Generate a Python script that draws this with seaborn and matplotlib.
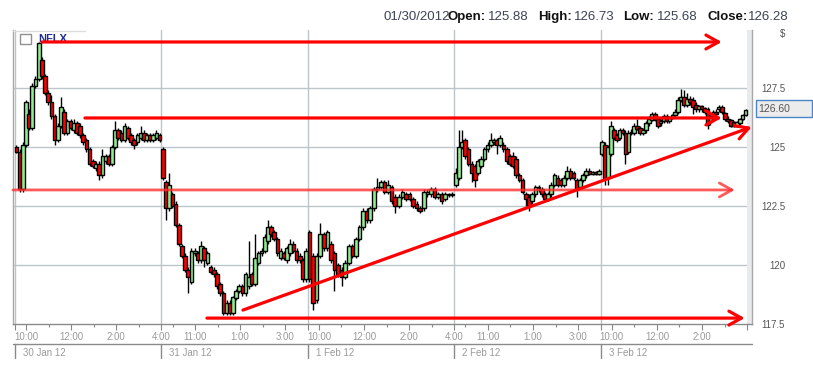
import numpy as np
import pandas as pd
import matplotlib
matplotlib.use("Agg")
import matplotlib.pyplot as plt
from matplotlib.lines import Line2D
from matplotlib.patches import Rectangle
import seaborn as sns

# ---------------- data: (open, high, low, close) per candle ----------------
jan30 = [
    (125.0,125.1,124.75,124.8),(124.8,124.9,123.1,123.2),(123.2,125.2,123.1,125.1),(125.1,127.0,125.0,126.9),
    (126.4,126.6,125.7,125.8),(125.8,127.7,125.7,127.6),(127.6,128.0,127.5,127.9),(127.9,129.45,127.8,129.4),
    (128.7,128.8,127.9,128.0),(128.0,128.1,127.2,127.3),(127.3,127.4,126.8,126.9),(126.9,127.2,126.2,126.3),
    (126.3,126.4,125.1,125.3),(125.3,126.0,125.2,125.9),(125.9,127.1,125.8,126.7),(126.5,126.6,125.5,125.6),
    (125.6,126.2,125.5,126.1),(126.1,126.2,125.7,125.8),(125.7,126.2,125.6,126.0),(126.0,126.1,125.5,125.6),
    (125.9,126.0,125.4,125.5),(125.5,125.6,125.1,125.2),(125.3,125.4,124.8,124.9),(124.9,125.0,124.2,124.3),
    (124.4,124.5,124.1,124.2),(124.1,124.4,124.0,124.3),(124.3,124.4,123.6,123.8),(123.8,124.9,123.7,124.6),
    (124.4,124.7,124.3,124.6),(124.6,124.7,124.2,124.3),(124.3,125.1,124.2,125.0),(125.0,126.1,124.9,125.7),
    (125.7,125.8,125.3,125.4),(125.6,125.7,125.2,125.3),(125.3,126.0,125.2,125.9),(125.8,125.9,125.3,125.4),
    (125.5,125.6,125.1,125.2),(125.3,125.4,124.9,125.1),(125.2,125.6,125.1,125.5),(125.4,125.9,125.3,125.6),
    (125.6,125.7,125.2,125.3),(125.3,125.6,125.2,125.5),(125.5,125.6,125.2,125.3),(125.3,125.6,125.2,125.5),
    (125.4,125.7,125.3,125.6),(125.5,125.6,125.2,125.3),
]
jan31 = [
    (124.9,125.0,123.6,123.7),(123.5,123.6,121.9,122.4),(122.4,123.9,122.3,123.4),(123.0,123.1,122.4,122.5),
    (122.6,122.7,121.6,121.7),(121.7,121.8,120.8,120.9),(120.8,120.9,120.3,120.4),(120.4,120.5,119.7,119.8),
    (119.8,119.9,118.8,119.5),(119.3,120.7,119.2,120.6),(120.5,120.7,120.4,120.6),(120.5,120.6,120.1,120.2),
    (120.2,121.0,120.1,120.8),(120.7,120.8,119.9,120.2),(120.1,120.6,120.0,120.5),(119.9,120.0,119.6,119.7),
    (119.8,119.9,119.5,119.6),(119.6,119.7,119.0,119.1),(119.2,119.3,118.7,118.8),(118.8,118.9,117.9,117.95),
    (117.95,118.5,117.9,118.4),(118.4,118.5,117.9,117.95),(117.95,118.7,117.9,118.65),(118.6,119.0,118.5,118.9),
    (118.9,119.2,118.8,119.1),(119.1,119.2,118.7,118.8),(118.8,119.7,118.7,119.6),(119.1,121.0,119.0,119.5),
    (119.6,119.7,119.1,119.2),(119.2,121.3,119.1,120.3),(120.1,120.6,120.0,120.5),(120.5,120.7,120.4,120.6),
    (120.6,121.3,120.5,121.2),(121.0,121.9,120.9,121.6),(121.6,121.7,121.2,121.3),(121.4,121.5,121.0,121.1),
    (121.1,121.2,120.4,120.5),(120.3,120.7,120.2,120.6),(120.5,120.6,120.2,120.3),(120.2,120.8,120.1,120.7),
    (120.5,121.1,120.4,120.9),(120.9,121.0,120.5,120.6),(120.6,120.7,120.1,120.2),(120.4,120.5,120.1,120.2),
    (120.2,120.3,119.3,119.4),(119.4,120.7,119.3,120.6),
]
feb01 = [
    (121.4,121.5,119.3,119.4),(120.4,120.5,118.1,118.4),(118.5,120.5,118.4,120.4),(120.4,121.8,120.3,121.3),
    (121.3,121.4,120.6,120.7),(120.7,121.5,120.6,121.4),(120.9,121.0,120.1,120.2),(120.5,120.6,118.9,119.8),
    (120.0,120.1,119.5,119.6),(119.8,119.9,119.1,119.5),(119.5,120.2,119.4,120.1),(120.1,120.9,120.0,120.8),
    (120.8,120.9,120.3,120.4),(120.4,121.2,120.3,121.1),(121.1,121.7,121.0,121.6),(121.6,122.4,121.5,122.3),
    (122.3,122.4,121.8,121.9),(121.9,122.5,121.8,122.4),(122.4,123.3,122.3,123.2),(123.2,123.7,123.1,123.3),
    (123.3,123.6,123.2,123.5),(123.5,123.6,123.0,123.1),(123.1,123.6,123.0,123.4),(123.3,123.4,122.6,122.7),
    (122.9,123.0,122.2,122.5),(122.5,123.0,122.4,122.9),(122.9,123.2,122.8,123.1),(123.0,123.1,122.7,122.8),
    (123.0,123.1,122.7,122.8),(122.8,122.9,122.4,122.5),(122.6,122.7,122.3,122.4),(122.4,122.5,122.2,122.3),
    (122.4,123.2,122.3,123.1),(123.0,123.2,122.9,123.1),(123.0,123.3,122.9,123.2),(123.2,123.3,122.8,122.9),
    (122.9,123.1,122.8,123.0),(123.0,123.1,122.6,122.7),(122.8,123.1,122.7,123.0),(122.95,123.05,122.9,123.0),
    (123.0,123.1,122.9,122.95),
]
feb02 = [
    (123.4,124.1,123.3,123.9),(123.7,125.7,123.6,125.0),(125.0,125.7,124.9,125.2),(125.3,125.4,124.5,124.6),
    (124.9,125.0,124.2,124.3),(124.3,124.4,123.5,123.9),(124.2,124.3,123.3,123.6),(123.9,124.5,123.8,124.4),
    (124.2,124.6,124.1,124.5),(124.5,125.0,124.4,124.9),(124.9,125.2,124.8,125.1),(125.1,125.6,125.0,125.3),
    (125.2,125.4,125.1,125.3),(125.3,125.4,124.7,125.1),(125.1,125.5,125.0,125.4),(125.1,125.2,124.8,124.9),
    (124.9,125.0,124.3,124.4),(124.6,124.7,124.2,124.3),(124.6,124.8,124.1,124.2),(124.5,124.6,123.7,123.8),
    (123.8,123.9,123.5,123.6),(123.6,123.7,123.0,123.1),(123.0,123.1,122.5,122.8),(122.9,123.0,122.3,122.5),
    (122.7,123.1,122.6,123.0),(123.0,123.4,122.9,123.3),(123.25,123.4,123.1,123.3),(123.2,123.3,122.9,123.0),
    (123.0,123.1,122.7,122.8),(122.8,123.1,122.7,123.0),(123.0,123.5,122.9,123.4),(123.4,123.9,123.3,123.8),
    (123.7,123.8,123.3,123.4),(123.6,123.7,123.3,123.4),(123.4,123.8,123.3,123.7),(123.7,124.2,123.6,124.0),
    (124.0,124.1,123.6,123.7),(123.9,124.0,123.6,123.7),(123.6,123.7,122.9,123.2),(123.3,123.7,123.2,123.6),
    (123.6,123.9,123.5,123.8),(123.8,124.1,123.7,124.0),(124.0,124.1,123.8,123.85),(123.85,124.0,123.8,123.95),
    (123.95,124.0,123.8,123.85),(123.85,124.05,123.8,124.0),
]
feb03 = [
    (124.7,125.3,124.6,125.2),(125.1,125.2,123.4,123.7),(123.7,125.1,123.4,125.0),(124.7,126.1,124.6,125.9),
    (125.7,125.8,125.3,125.4),(125.5,125.6,125.2,125.3),(125.4,125.8,125.3,125.7),(125.7,125.8,125.5,125.6),
    (125.6,125.7,124.3,124.7),(124.8,125.7,124.7,125.6),(125.6,125.75,125.5,125.65),(125.6,126.0,125.5,125.9),
    (125.9,126.2,125.7,125.75),(125.8,125.9,125.5,125.6),(125.6,125.8,125.5,125.7),(125.7,126.1,125.6,126.0),
    (126.0,126.3,125.9,126.2),(126.15,126.5,126.1,126.4),(126.4,126.5,126.1,126.2),(126.2,126.3,125.8,125.9),
    (126.0,126.2,125.9,126.1),(126.1,126.4,126.0,126.3),(126.3,126.4,126.0,126.1),(126.1,126.3,126.0,126.25),
    (126.25,126.4,126.2,126.35),(126.35,126.6,126.3,126.5),(126.5,127.1,126.4,127.0),(127.0,127.45,126.9,127.1),
    (127.1,127.4,126.7,126.8),(126.8,127.3,126.7,127.05),(127.05,127.15,126.8,126.9),(127.0,127.1,126.4,126.7),
    (126.8,126.9,126.5,126.6),(126.6,126.8,126.5,126.75),(126.75,126.8,126.5,126.6),(126.65,126.7,126.4,126.5),
    (126.6,126.7,125.75,125.95),(126.05,126.35,125.95,126.3),(126.3,126.55,126.2,126.5),(126.5,126.6,126.3,126.4),
    (126.6,126.8,126.5,126.7),(126.7,126.8,126.4,126.5),(126.45,126.5,126.1,126.2),(126.2,126.3,126.0,126.1),
    (126.15,126.2,125.85,125.9),(126.05,126.1,125.85,125.9),(125.9,126.1,125.85,126.05),(126.0,126.25,125.95,126.2),
    (126.2,126.4,126.15,126.35),(126.35,126.6,126.3,126.55),
]
days = [jan30, jan31, feb01, feb02, feb03]
day_labels = ["30 Jan 12", "31 Jan 12", "1 Feb 12", "2 Feb 12", "3 Feb 12"]

price_ticks = [117.5, 120, 122.5, 125, 127.5]
price_tick_labels = ["117.5", "120", "122.5", "125", "127.5"]

# x axis: day index + fraction of the 9:30-16:00 session
major_times = [(0, 10, "10:00"), (0, 12, "12:00"), (0, 14, "2:00"), (1, 9.5, "4:00"),
               (1, 11, "11:00"), (1, 13, "1:00"), (1, 15, "3:00"),
               (2, 10, "10:00"), (2, 12, "12:00"), (2, 14, "2:00"), (3, 9.5, "4:00"),
               (3, 11, "11:00"), (3, 13, "1:00"), (3, 15, "3:00"),
               (4, 10, "10:00"), (4, 12, "12:00"), (4, 14, "2:00")]
bare_ticks = [(0, 9.5), (2, 9.5), (4, 9.5), (5, 9.5)]
minor_times = [(0, 11), (0, 13), (0, 15), (1, 10), (1, 12), (1, 14), (2, 11), (2, 13), (2, 15),
               (3, 10), (3, 12), (3, 14), (4, 11), (4, 13), (4, 15)]

# drawn annotation lines (day-position, price)
hline_price = [129.45, 126.23, 123.18, 117.75]
hline_from = [0.186, 0.479, -0.0123, 1.312]
hline_to = [4.827, 4.827, 4.916, 4.984]
trend_x = [1.558, 5.032]
trend_y = [118.09, 125.85]

header = [("01/30/2012", 383, "normal"), ("Open:", 447, "bold"), ("125.88", 488, "normal"),
          ("High:", 538, "bold"), ("126.73", 574, "normal"), ("Low:", 623, "bold"),
          ("125.68", 657, "normal"), ("Close:", 707, "bold"), ("126.28", 748, "normal")]
last_price = "126.60"

# ---------------- figure ----------------
sns.set_theme(style="white")
plt.rcParams['font.family'] = ['Liberation Sans', 'DejaVu Sans']

W, H = 813, 365
fig = plt.figure(figsize=(W / 100, H / 100), dpi=100)
fig.patch.set_facecolor("white")

def fx(px):
    return px / W

def fy(py):
    return 1 - py / H

X0, DAYW = 14.8, 146.45
def xd(px):
    return (px - X0) / DAYW

def tpos(d, h):
    return d + (h - 9.5) / 6.5

ax = fig.add_axes([fx(13), fy(324), (752 - 13) / W, (324 - 30) / H])
ax.set_facecolor("white")
ax.set_xlim(xd(13), xd(752))
ax.set_ylim(117.5, 117.5 + 294 / 23.6)

rows = []
for d, day in enumerate(days):
    n = len(day)
    for k, (o, h, l, c) in enumerate(day):
        rows.append(dict(x=d + (k + 0.5) / n, open=o, high=h, low=l, close=c))
df = pd.DataFrame(rows)

grid_c = "#bcc5c9"
for p in price_ticks[1:]:
    ax.axhline(p, color=grid_c, lw=1, zorder=0)
for d in range(5):
    ax.axvline(d, color=grid_c, lw=1, zorder=0)
ax.axvspan(xd(747), xd(752), color="#e8eaeb", lw=0, zorder=1)

ax.vlines(df["x"], df["low"], df["high"], color="black", lw=1.0, zorder=2)
body_bottom = np.minimum(df["open"], df["close"])
body_h = (df["close"] - df["open"]).abs().clip(lower=0.05)
colors = np.where(df["close"] >= df["open"], "#90ee90", "#ff0000")
ax.bar(df["x"], body_h, bottom=body_bottom, width=0.025, color=colors,
       edgecolor="black", linewidth=1.0, zorder=3)

arrow = dict(arrowstyle="->,head_length=0.45,head_width=0.25", color="#ff0000", lw=2.3,
             shrinkA=0, shrinkB=0, mutation_scale=20)
for i, (p, a, b) in enumerate(zip(hline_price, hline_from, hline_to)):
    props = dict(arrow)
    if i == 2:
        props.update(color="#ff3030", alpha=0.8, lw=2.0)
    ax.annotate("", xy=(b, p), xytext=(a, p), arrowprops=props, zorder=6,
                annotation_clip=False)
ax.annotate("", xy=(trend_x[1], trend_y[1]), xytext=(trend_x[0], trend_y[0]),
            arrowprops=arrow, zorder=6, annotation_clip=False)

# spines
for s in ["left", "right", "bottom", "top"]:
    ax.spines[s].set_visible(True)
    ax.spines[s].set_linewidth(1)
ax.spines["left"].set_color("#a8a8a8")
ax.spines["right"].set_color("#a8a8a8")
ax.spines["bottom"].set_color("#8a8a8a")
ax.spines["top"].set_visible(False)

# x ticks
maj_pos = [tpos(d, h) for d, h, _ in major_times] + [tpos(d, h) for d, h in bare_ticks]
maj_lab = [t for _, _, t in major_times] + [""] * len(bare_ticks)
ax.set_xticks(maj_pos)
ax.set_xticklabels(maj_lab)
ax.set_xticks([tpos(d, h) for d, h in minor_times], minor=True)
ax.tick_params(axis="x", which="both", bottom=True, top=False, direction="out",
               color="#888888", width=0.8)
ax.tick_params(axis="x", which="major", length=4.3, pad=1.5, labelsize=7, labelcolor="#9a9a9a")
ax.tick_params(axis="x", which="minor", length=2.2)

# y ticks on right
ax.yaxis.tick_right()
ax.set_yticks(price_ticks)
ax.set_yticklabels(price_tick_labels)
ax.tick_params(axis="y", which="both", length=0, pad=23.8, labelsize=7,
               labelcolor="#555555", right=True, left=False)
for t in ax.get_yticklabels():
    t.set_ha("right")
ax.grid(False)

# date row
fig.add_artist(Line2D([fx(13), fx(752)], [fy(344), fy(344)], color="#8a8a8a", lw=1))
for d, lab in enumerate(day_labels):
    px = X0 + d * DAYW
    fig.add_artist(Line2D([fx(px), fx(px)], [fy(344), fy(358)], color="#8a8a8a", lw=1))
    fig.text(fx(px + 8), fy(353), lab, fontsize=7, color="#9a9a9a", va="center", ha="left")

# header
for txt, px, wt in header:
    fig.text(fx(px), fy(17), txt, fontsize=9.5, fontweight=wt,
             color="#111111" if wt == "bold" else "#3d4257", va="center", ha="left")

fig.text(fx(785), fy(34), "$", fontsize=7, color="#555555", va="center", ha="right")

# last price box
fig.add_artist(Rectangle((fx(756), fy(117)), (812 - 756) / W, 17 / H, transform=fig.transFigure,
                         facecolor="#ececec", edgecolor="#4a86c5", lw=1))
fig.text(fx(758), fy(108.5), last_price, fontsize=7.5, color="#555555", va="center", ha="left")

# legend
ax.add_artist(Rectangle((fx(20), fy(44)), 11 / W, 10 / H, transform=fig.transFigure,
                        facecolor="white", edgecolor="#909090", lw=1, zorder=4, clip_on=False))
ax.add_line(Line2D([fx(13), fx(85)], [fy(30.5), fy(30.5)], transform=fig.transFigure,
                   color="#dcdcdc", lw=1, zorder=4, clip_on=False))
ax.text(fx(38), fy(39), "NFLX", transform=fig.transFigure, fontsize=8, fontweight="bold",
        color="#1f2a8f", va="center", ha="left", zorder=4, clip_on=False)

fig.savefig("out.png", dpi=100, facecolor="white")
